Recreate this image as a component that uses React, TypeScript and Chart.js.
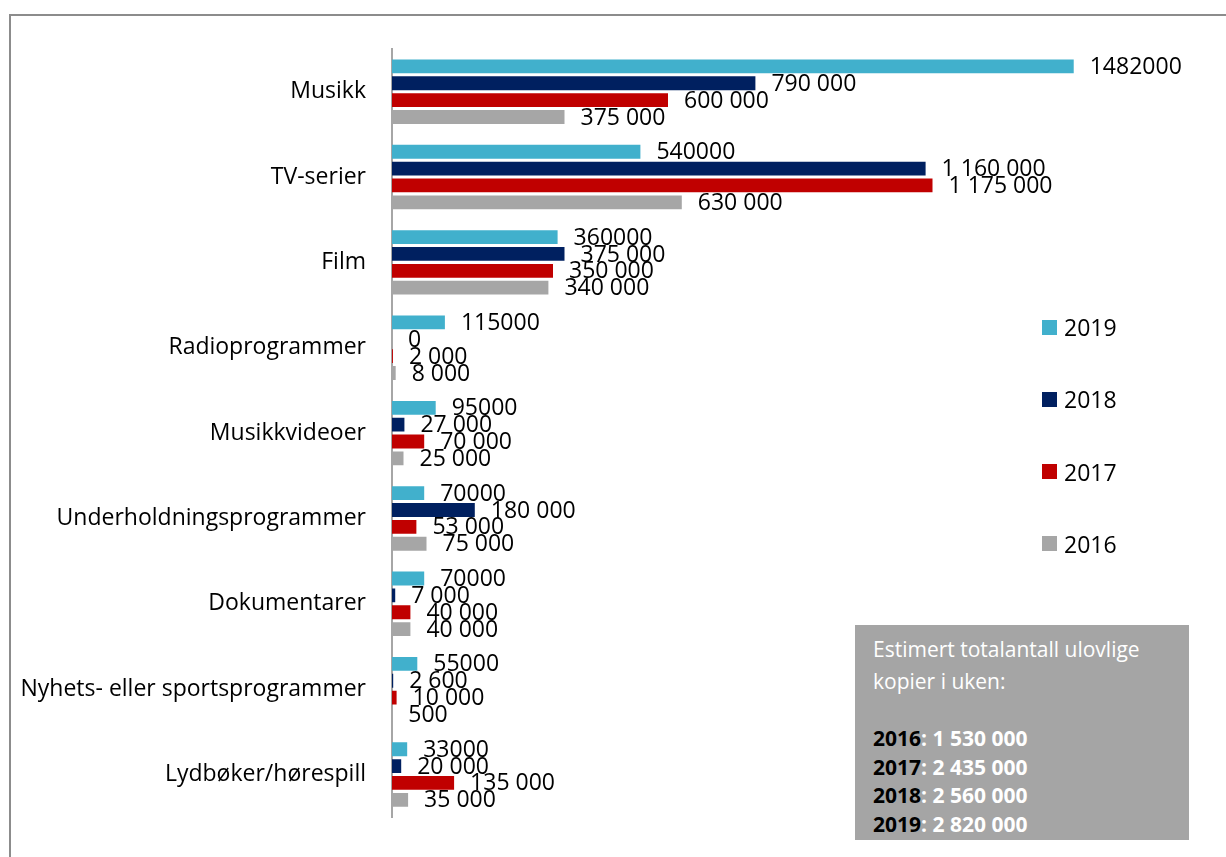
import React, { useEffect, useRef } from "react";
import { Chart, registerables } from "chart.js";

Chart.register(...registerables);

const categories = [
  "Musikk",
  "TV-serier",
  "Film",
  "Radioprogrammer",
  "Musikkvideoer",
  "Underholdningsprogrammer",
  "Dokumentarer",
  "Nyhets- eller sportsprogrammer",
  "Lydbøker/hørespill",
];

const seriesNames = ["2019", "2018", "2017", "2016"];
const seriesColors = ["#41B0CC", "#002060", "#C00000", "#A6A6A6"];

const values2019 = [1482000, 540000, 360000, 115000, 95000, 70000, 70000, 55000, 33000];
const values2018 = [790000, 1160000, 375000, 0, 27000, 180000, 7000, 2600, 20000];
const values2017 = [600000, 1175000, 350000, 2000, 70000, 53000, 40000, 10000, 135000];
const values2016 = [375000, 630000, 340000, 8000, 25000, 75000, 40000, 500, 35000];

const labels2019 = ["1482000", "540000", "360000", "115000", "95000", "70000", "70000", "55000", "33000"];
const labels2018 = ["790 000", "1 160 000", "375 000", "0", "27 000", "180 000", "7 000", "2 600", "20 000"];
const labels2017 = ["600 000", "1 175 000", "350 000", "2 000", "70 000", "53 000", "40 000", "10 000", "135 000"];
const labels2016 = ["375 000", "630 000", "340 000", "8 000", "25 000", "75 000", "40 000", "500", "35 000"];

const totalsYears = ["2016", "2017", "2018", "2019"];
const totalsValues = ["1 530 000", "2 435 000", "2 560 000", "2 820 000"];

const boxTitle1 = "Estimert totalantall ulovlige";
const boxTitle2 = "kopier i uken:";

const FONT = '"Open Sans", "Noto Sans", sans-serif';

const dataLabelPlugin = {
  id: "dataLabels",
  afterDatasetsDraw(chart: any) {
    const ctx = chart.ctx;
    ctx.save();
    ctx.font = `23px ${FONT}`;
    ctx.fillStyle = "#000";
    ctx.textAlign = "left";
    ctx.textBaseline = "middle";
    chart.data.datasets.forEach((ds: any, di: number) => {
      const meta = chart.getDatasetMeta(di);
      meta.data.forEach((el: any, i: number) => {
        const txt = ds.valueLabels[i];
        ctx.fillText(txt, el.x + 16, el.y + 1);
      });
    });
    ctx.restore();
  },
};

export default function App() {
  const canvasRef = useRef<HTMLCanvasElement | null>(null);

  useEffect(() => {
    if (!canvasRef.current) return;
    const allValues = [values2019, values2018, values2017, values2016];
    const allLabels = [labels2019, labels2018, labels2017, labels2016];
    const chart = new Chart(canvasRef.current, {
      type: "bar",
      data: {
        labels: categories,
        datasets: seriesNames.map((name, i) => ({
          label: name,
          data: allValues[i],
          valueLabels: allLabels[i],
          backgroundColor: seriesColors[i],
          borderWidth: 0,
          categoryPercentage: 0.79,
          barPercentage: 0.82,
        })) as any,
      },
      options: {
        indexAxis: "y",
        responsive: false,
        animation: false,
        devicePixelRatio: 1,
        layout: { padding: { top: 49, bottom: 36, left: 0, right: 98 } },
        plugins: {
          legend: { display: false },
          tooltip: { enabled: false },
          title: { display: false },
        },
        scales: {
          x: {
            display: false,
            min: 0,
            max: 1600000,
          },
          y: {
            grid: { display: false, drawTicks: false },
            border: { display: true, color: "#A6A6A6", width: 2 },
            ticks: {
              color: "#000",
              font: { family: FONT, size: 23 },
              padding: 26,
            },
            afterFit(scale: any) {
              scale.width = 392;
            },
          },
        },
      },
      plugins: [dataLabelPlugin],
    });
    return () => chart.destroy();
  }, []);

  return (
    <div
      style={{
        position: "fixed",
        left: 0,
        top: 0,
        width: 1226,
        height: 857,
        overflow: "hidden",
        background: "#fff",
        fontFamily: FONT,
      }}
    >
      <div
        style={{
          position: "absolute",
          left: 9,
          top: 14,
          width: 1400,
          height: 1000,
          borderTop: "2px solid #8C8C8C",
          borderLeft: "2px solid #8C8C8C",
        }}
      />
      <canvas
        ref={canvasRef}
        width={1226}
        height={857}
        style={{ position: "absolute", left: 0, top: 0, width: 1226, height: 857 }}
      />
      {seriesNames.map((name, i) => (
        <div
          key={name}
          style={{
            position: "absolute",
            left: 1042,
            top: 327 + i * 72.3 - 16,
            height: 32,
            display: "flex",
            alignItems: "center",
            fontSize: 23,
            color: "#000",
          }}
        >
          <span
            style={{
              display: "inline-block",
              width: 15,
              height: 15,
              background: seriesColors[i],
              marginRight: 7,
            }}
          />
          <span>{name}</span>
        </div>
      ))}
      <div
        style={{
          position: "absolute",
          left: 855,
          top: 625,
          width: 334,
          height: 215,
          background: "#A5A5A5",
        }}
      >
        <div style={{ position: "absolute", left: 18, top: 9, fontSize: 21, lineHeight: "30px", color: "#fff", whiteSpace: "nowrap" }}>
          {boxTitle1}
        </div>
        <div style={{ position: "absolute", left: 18, top: 41, fontSize: 21, lineHeight: "30px", color: "#fff", whiteSpace: "nowrap" }}>
          {boxTitle2}
        </div>
        {totalsYears.map((y, i) => (
          <div
            key={y}
            style={{
              position: "absolute",
              left: 18,
              top: 98 + i * 28.5,
              fontSize: 21,
              lineHeight: "30px",
              fontWeight: 700,
              color: "#fff",
              whiteSpace: "nowrap",
            }}
          >
            <span style={{ color: "#000" }}>{y}</span>: {totalsValues[i]}
          </div>
        ))}
      </div>
    </div>
  );
}
